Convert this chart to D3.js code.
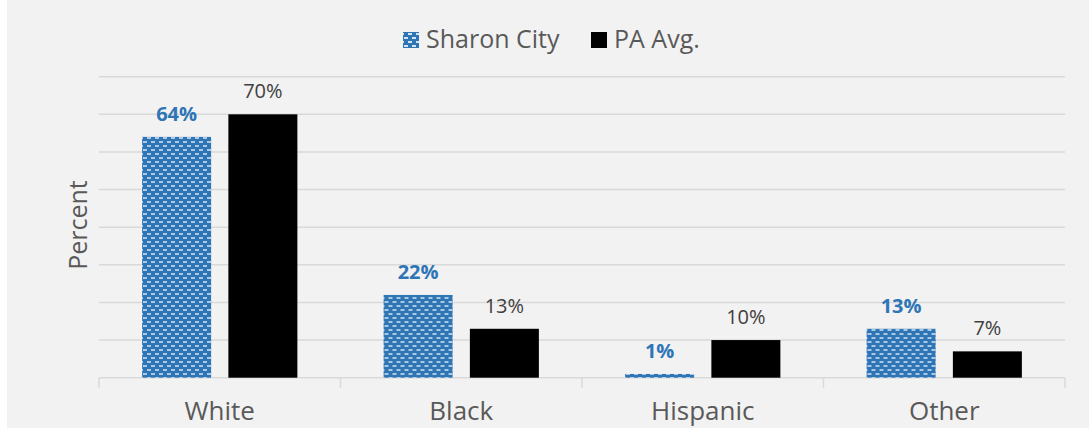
<!DOCTYPE html>
<html>
<head>
<meta charset="utf-8">
<script src="https://cdn.jsdelivr.net/npm/d3@7"></script>
<style>
  html, body { margin: 0; padding: 0; background: #fff; }
  svg { display: block; font-family: "Open Sans", "DejaVu Sans", sans-serif; }
</style>
</head>
<body>
<script>
const WIDTH = 1089;
const HEIGHT = 428;

// data
const CATEGORIES = ["White", "Black", "Hispanic", "Other"];
const SERIES = ["Sharon City", "PA Avg."];
const SHARON = [64, 22, 1, 13];
const PA_AVG = [70, 13, 10, 7];
const Y_TICKS = [0, 10, 20, 30, 40, 50, 60, 70, 80];

const BLUE = "#2e75b6";
const GRID = "#d9d9d9";

const svg = d3.select("body")
              .append("svg")
              .attr("width", WIDTH)
              .attr("height", HEIGHT);

// chart area background, white strip on the left
svg.append("rect").attr("width", WIDTH).attr("height", HEIGHT).attr("fill", "#fff");
svg.append("rect").attr("x", 7).attr("width", WIDTH - 7).attr("height", HEIGHT).attr("fill", "#f2f2f2");

// dashed-horizontal pattern like the excel fill
const defs = svg.append("defs");
const makePattern = (id, size, dash, thick) => {
  const p = defs.append("pattern")
                .attr("id", id)
                .attr("patternUnits", "userSpaceOnUse")
                .attr("width", size)
                .attr("height", size);
  p.append("rect").attr("width", size).attr("height", size).attr("fill", BLUE);
  p.append("rect").attr("x", 0).attr("y", size / 4 - thick / 2).attr("width", dash).attr("height", thick).attr("fill", "#fff");
  p.append("rect").attr("x", size / 2).attr("y", 3 * size / 4 - thick / 2).attr("width", dash).attr("height", thick).attr("fill", "#fff");
};
makePattern("dashes", 8, 4, 1.2);
makePattern("dashesBig", 8, 4, 1.6);

// scales
const x0 = d3.scaleBand()
             .domain(CATEGORIES)
             .range([99, 1065])
             .padding(0);

const x1 = d3.scaleBand()
             .domain(SERIES)
             .range([0, x0.bandwidth()])
             .paddingInner(0.2)
             .paddingOuter(0.5);

const y = d3.scaleLinear()
            .domain([0, 80])
            .range([377.7, 76.7]);

// gridlines
svg.append("g")
   .selectAll("line")
   .data(Y_TICKS.slice(1))
   .enter()
   .append("line")
   .attr("x1", 99)
   .attr("x2", 1065)
   .attr("y1", d => y(d))
   .attr("y2", d => y(d))
   .attr("stroke", GRID)
   .attr("stroke-width", 1.5);

// x axis with tick marks between categories
const xAxis = svg.append("g").attr("id", "x-axis");
xAxis.append("line")
     .attr("x1", 99).attr("x2", 1065)
     .attr("y1", y(0)).attr("y2", y(0))
     .attr("stroke", GRID).attr("stroke-width", 1.5);
xAxis.selectAll(".sep")
     .data(CATEGORIES.concat([null]))
     .enter()
     .append("line")
     .attr("class", "sep")
     .attr("x1", (d, i) => i < CATEGORIES.length ? x0(d) : x0.range()[1])
     .attr("x2", (d, i) => i < CATEGORIES.length ? x0(d) : x0.range()[1])
     .attr("y1", y(0))
     .attr("y2", y(0) + 10)
     .attr("stroke", GRID).attr("stroke-width", 1.5);
xAxis.selectAll(".cat")
     .data(CATEGORIES)
     .enter()
     .append("text")
     .attr("class", "cat")
     .attr("x", d => x0(d) + x0.bandwidth() / 2)
     .attr("y", 420)
     .attr("text-anchor", "middle")
     .attr("font-size", 26)
     .attr("fill", "#595959")
     .text(d => d);

// y axis title
svg.append("text")
   .attr("transform", "translate(87, 225) rotate(-90)")
   .attr("text-anchor", "middle")
   .attr("font-size", 25)
   .attr("fill", "#595959")
   .text("Percent");

// bars
const rows = CATEGORIES.map((c, i) => ({cat: c, values: [SHARON[i], PA_AVG[i]]}));

const groups = svg.selectAll(".grp")
                  .data(rows)
                  .enter()
                  .append("g")
                  .attr("class", "grp")
                  .attr("transform", d => "translate(" + x0(d.cat) + ",0)");

groups.selectAll("rect")
      .data(d => d.values.map((v, j) => ({s: SERIES[j], v: v})))
      .enter()
      .append("rect")
      .attr("x", d => x1(d.s))
      .attr("y", d => y(d.v))
      .attr("width", x1.bandwidth())
      .attr("height", d => y(0) - y(d.v))
      .attr("fill", d => d.s === SERIES[0] ? "url(#dashes)" : "#000");

groups.selectAll(".lbl")
      .data(d => d.values.map((v, j) => ({s: SERIES[j], v: v})))
      .enter()
      .append("text")
      .attr("class", "lbl")
      .attr("x", d => x1(d.s) + x1.bandwidth() / 2)
      .attr("y", d => y(d.v) - 16)
      .attr("text-anchor", "middle")
      .attr("font-size", 20)
      .attr("font-weight", d => d.s === SERIES[0] ? "bold" : "normal")
      .attr("fill", d => d.s === SERIES[0] ? BLUE : "#404040")
      .text(d => d.v + "%");

// legend
const legend = svg.append("g").attr("id", "legend");
const legendItems = [
  {name: SERIES[0], x: 403, fill: "url(#dashesBig)", tx: 426},
  {name: SERIES[1], x: 591, fill: "#000", tx: 614}
];
legend.selectAll("rect")
      .data(legendItems)
      .enter()
      .append("rect")
      .attr("x", d => d.x)
      .attr("y", 32)
      .attr("width", 16)
      .attr("height", 16)
      .attr("fill", d => d.fill);
legend.selectAll("text")
      .data(legendItems)
      .enter()
      .append("text")
      .attr("x", d => d.tx)
      .attr("y", 48)
      .attr("font-size", 25)
      .attr("fill", "#595959")
      .text(d => d.name);
</script>
</body>
</html>
